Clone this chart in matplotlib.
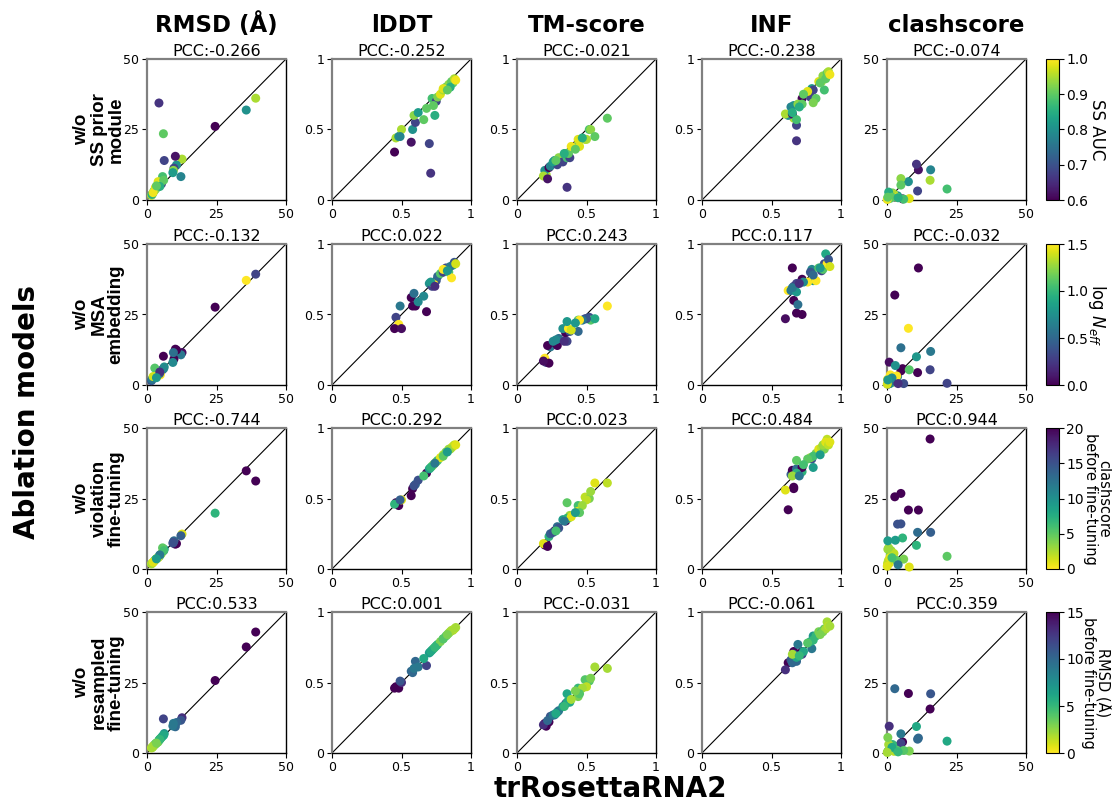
import matplotlib
matplotlib.use("Agg")
import matplotlib.pyplot as plt
import numpy as np

# ---------------- data ----------------
metrics = ["RMSD (Å)", "lDDT", "TM-score", "INF", "clashscore"]
row_labels = ["w/o\nSS prior\nmodule", "w/o\nMSA\nembedding",
              "w/o\nviolation\nfine-tuning", "w/o\nresampled\nfine-tuning"]
cbar_labels = ["SS AUC", "log $N_{eff}$", "clashscore\nbefore fine-tuning",
               "RMSD (Å)\nbefore fine-tuning"]
pcc_row1 = ["-0.266", "-0.252", "-0.021", "-0.238", "-0.074"]
pcc_row2 = ["-0.132", "0.022", "0.243", "0.117", "-0.032"]
pcc_row3 = ["-0.744", "0.292", "0.023", "0.484", "0.944"]
pcc_row4 = ["0.533", "0.001", "-0.031", "-0.061", "0.359"]

# trRosettaRNA2 values (x), one per target
x_rmsd = [39.1, 35.7, 24.5, 12.6, 12.2, 10.6, 10.2, 9.7, 9.5, 9.3, 5.9, 6.2, 5.6, 5.2, 4.8,
          4.5, 4.3, 4.0, 3.6, 3.2, 2.8, 2.4, 2.0, 1.6, 1.8, 3.0, 6.0, 2.2, 4.6, 3.4]
x_lddt = [0.46, 0.48, 0.45, 0.50, 0.49, 0.58, 0.57, 0.60, 0.59, 0.62, 0.68, 0.70, 0.72, 0.75, 0.73,
          0.76, 0.71, 0.78, 0.80, 0.82, 0.84, 0.86, 0.87, 0.88, 0.85, 0.80, 0.66, 0.89, 0.74, 0.83]
x_tm = [0.21, 0.20, 0.23, 0.19, 0.24, 0.27, 0.22, 0.29, 0.30, 0.26, 0.35, 0.33, 0.36, 0.38, 0.37,
        0.44, 0.36, 0.44, 0.49, 0.52, 0.53, 0.65, 0.56, 0.50, 0.47, 0.45, 0.28, 0.39, 0.34, 0.42]
x_inf = [0.66, 0.62, 0.72, 0.60, 0.64, 0.66, 0.65, 0.68, 0.69, 0.79, 0.72, 0.80, 0.68, 0.78, 0.82,
         0.80, 0.68, 0.84, 0.86, 0.88, 0.87, 0.90, 0.89, 0.91, 0.65, 0.76, 0.73, 0.92, 0.70, 0.85]
x_clash = [15.5, 7.7, 5.6, 0.8, 15.7, 2.8, 11.3, 11.0, 5.0, 3.8, 5.0, 3.0, 21.6, 0.3, 1.2,
           2.0, 10.6, 8.0, 0.5, 6.0, 1.5, 0.2, 1.0, 2.5, 0.6, 3.5, 1.8, 0.1, 4.0, 0.3]

# row 1: w/o SS prior module
y1_rmsd = [36.1, 31.9, 26.1, 14.5, 8.3, 12.4, 15.5, 11.3, 10.5, 9.7, 23.5, 14.0, 8.3, 5.7, 6.0,
           5.0, 34.4, 6.5, 4.5, 4.0, 3.5, 3.0, 2.2, 1.6, 2.0, 4.4, 7.0, 2.6, 4.8, 5.0]
y1_lddt = [0.44, 0.45, 0.34, 0.50, 0.45, 0.50, 0.41, 0.55, 0.60, 0.62, 0.65, 0.40, 0.72, 0.70, 0.67,
           0.73, 0.19, 0.75, 0.78, 0.80, 0.82, 0.84, 0.83, 0.86, 0.80, 0.79, 0.57, 0.85, 0.60, 0.78]
y1_tm = [0.18, 0.21, 0.23, 0.17, 0.24, 0.28, 0.15, 0.25, 0.30, 0.27, 0.33, 0.27, 0.30, 0.30, 0.33,
         0.39, 0.09, 0.43, 0.43, 0.50, 0.50, 0.58, 0.45, 0.43, 0.44, 0.38, 0.28, 0.38, 0.33, 0.36]
y1_inf = [0.58, 0.60, 0.72, 0.61, 0.66, 0.67, 0.61, 0.53, 0.68, 0.79, 0.68, 0.78, 0.57, 0.73, 0.72,
          0.69, 0.42, 0.84, 0.84, 0.78, 0.88, 0.90, 0.86, 0.91, 0.62, 0.77, 0.75, 0.89, 0.66, 0.83]
y1_clash = [7.0, 6.5, 0.4, 1.5, 10.7, 1.2, 10.7, 3.2, 7.6, 1.5, 5.3, 1.0, 3.9, 0.5, 2.0,
            2.5, 12.7, 0.5, 0.8, 0.3, 1.5, 0.3, 0.5, 2.0, 2.8, 1.0, 1.0, 0.2, 0.8, 1.0]
c1_ssauc = [0.95, 0.80, 0.60, 0.95, 0.78, 0.80, 0.62, 0.68, 0.93, 0.82, 0.90, 0.68, 0.88, 0.68, 0.90,
            0.92, 0.66, 0.98, 0.95, 0.88, 0.93, 0.90, 0.90, 0.95, 0.85, 0.98, 0.90, 0.99, 0.85, 0.90]

# row 2: w/o MSA embedding
y2_rmsd = [39.3, 37.1, 27.6, 11.5, 10.7, 12.4, 12.7, 9.2, 11.5, 8.0, 10.2, 6.4, 5.5, 5.0, 3.6,
           4.0, 4.5, 4.2, 3.5, 3.0, 6.0, 2.5, 2.2, 1.5, 2.0, 3.0, 5.8, 3.0, 4.6, 2.6]
y2_lddt = [0.48, 0.43, 0.40, 0.40, 0.56, 0.56, 0.62, 0.56, 0.65, 0.59, 0.52, 0.72, 0.70, 0.74, 0.72,
           0.77, 0.73, 0.79, 0.80, 0.83, 0.80, 0.76, 0.85, 0.87, 0.84, 0.82, 0.63, 0.86, 0.70, 0.81]
y2_tm = [0.16, 0.19, 0.155, 0.17, 0.27, 0.30, 0.28, 0.28, 0.33, 0.31, 0.37, 0.40, 0.31, 0.38, 0.40,
         0.38, 0.45, 0.46, 0.47, 0.48, 0.46, 0.56, 0.47, 0.47, 0.46, 0.46, 0.32, 0.39, 0.31, 0.44]
y2_inf = [0.70, 0.67, 0.75, 0.47, 0.67, 0.60, 0.83, 0.51, 0.57, 0.82, 0.50, 0.74, 0.72, 0.80, 0.74,
          0.78, 0.66, 0.83, 0.81, 0.86, 0.82, 0.86, 0.93, 0.89, 0.69, 0.73, 0.73, 0.84, 0.72, 0.83]
y2_clash = [5.4, 20.1, 5.8, 8.1, 11.9, 31.9, 41.5, 4.4, 13.2, 3.0, 5.0, 6.9, 0.6, 0.3, 3.6,
            1.5, 10.0, 5.4, 1.0, 0.5, 0.8, 2.0, 0.5, 1.5, 0.4, 3.2, 2.5, 0.3, 0.5, 1.8]
c2_logneff = [0.3, 1.5, 0.0, 0.05, 0.6, 0.0, 0.0, 0.0, 0.55, 0.7, 0.0, 0.75, 0.3, 0.4, 1.5,
              0.5, 0.8, 1.1, 0.3, 0.35, 1.1, 1.5, 0.9, 0.4, 0.6, 1.5, 0.7, 1.4, 0.2, 0.8]

# row 3: w/o violation fine-tuning
y3_rmsd = [31.2, 34.8, 19.8, 12.4, 11.8, 9.0, 8.8, 10.0, 9.5, 9.2, 6.5, 7.0, 7.5, 5.5, 5.0,
           4.6, 4.4, 4.0, 3.8, 3.5, 3.0, 2.6, 2.2, 1.8, 2.0, 3.3, 6.5, 2.4, 5.0, 3.6]
y3_lddt = [0.47, 0.45, 0.46, 0.49, 0.49, 0.57, 0.52, 0.60, 0.59, 0.63, 0.68, 0.71, 0.73, 0.76, 0.74,
           0.77, 0.72, 0.79, 0.81, 0.83, 0.85, 0.86, 0.87, 0.88, 0.85, 0.80, 0.66, 0.88, 0.75, 0.83]
y3_tm = [0.18, 0.17, 0.23, 0.18, 0.25, 0.27, 0.16, 0.30, 0.29, 0.26, 0.34, 0.35, 0.47, 0.38, 0.36,
         0.45, 0.36, 0.41, 0.51, 0.50, 0.55, 0.61, 0.61, 0.49, 0.45, 0.40, 0.27, 0.37, 0.34, 0.40]
y3_inf = [0.57, 0.42, 0.69, 0.56, 0.67, 0.58, 0.70, 0.71, 0.68, 0.78, 0.72, 0.72, 0.77, 0.79, 0.82,
          0.80, 0.68, 0.85, 0.86, 0.85, 0.88, 0.92, 0.90, 0.88, 0.66, 0.78, 0.74, 0.90, 0.66, 0.81]
y3_clash = [46.1, 20.9, 11.0, 2.0, 13.0, 25.6, 20.9, 13.0, 16.0, 15.9, 26.8, 10.2, 4.5, 7.0, 5.0,
            4.5, 8.4, 0.7, 3.0, 3.5, 6.5, 2.0, 4.0, 5.5, 7.5, 3.0, 4.0, 1.0, 1.5, 10.0]
c3_clash_before = [20, 20, 7, 1, 14, 20, 20, 13, 15, 15, 20, 9, 5, 3, 4,
                   6, 7, 1, 2, 4, 3, 2, 1, 2, 3, 5, 6, 1, 12, 9]

# row 4: w/o resampled fine-tuning
y4_rmsd = [42.9, 37.6, 25.7, 12.5, 11.6, 10.8, 9.3, 9.9, 10.5, 9.6, 12.1, 6.9, 6.0, 5.5, 5.1,
           4.8, 4.5, 3.9, 3.7, 3.4, 2.9, 2.7, 2.1, 1.8, 1.9, 3.2, 6.3, 2.3, 4.8, 3.5]
y4_lddt = [0.47, 0.46, 0.46, 0.50, 0.51, 0.57, 0.58, 0.65, 0.60, 0.61, 0.62, 0.71, 0.73, 0.76, 0.74,
           0.77, 0.72, 0.79, 0.81, 0.83, 0.85, 0.87, 0.87, 0.88, 0.86, 0.81, 0.67, 0.89, 0.75, 0.84]
y4_tm = [0.19, 0.21, 0.22, 0.20, 0.26, 0.27, 0.23, 0.29, 0.30, 0.27, 0.35, 0.33, 0.42, 0.36, 0.37,
         0.46, 0.36, 0.40, 0.52, 0.51, 0.53, 0.60, 0.61, 0.47, 0.46, 0.42, 0.28, 0.38, 0.33, 0.44]
y4_inf = [0.72, 0.64, 0.72, 0.59, 0.66, 0.70, 0.64, 0.65, 0.77, 0.74, 0.70, 0.83, 0.68, 0.79, 0.83,
          0.80, 0.68, 0.86, 0.86, 0.88, 0.86, 0.93, 0.88, 0.90, 0.70, 0.78, 0.72, 0.90, 0.69, 0.84]
y4_clash = [15.6, 21.1, 3.9, 9.5, 21.0, 22.8, 5.3, 4.9, 6.8, 1.4, 3.5, 1.2, 4.2, 0.5, 2.5,
            3.0, 9.4, 0.7, 0.8, 0.9, 1.5, 0.3, 1.2, 0.6, 3.0, 1.0, 2.0, 0.2, 0.4, 5.5]
c4_rmsd_before = [15, 15, 15, 13, 11, 10, 10, 10, 9, 9, 12, 7, 6, 6, 5,
                  5, 6, 3, 4, 4, 3, 2, 2, 1.5, 2, 4, 6, 2, 5, 3]

xs = [x_rmsd, x_lddt, x_tm, x_inf, x_clash]
ys = [[y1_rmsd, y1_lddt, y1_tm, y1_inf, y1_clash],
      [y2_rmsd, y2_lddt, y2_tm, y2_inf, y2_clash],
      [y3_rmsd, y3_lddt, y3_tm, y3_inf, y3_clash],
      [y4_rmsd, y4_lddt, y4_tm, y4_inf, y4_clash]]
cs = [c1_ssauc, c2_logneff, c3_clash_before, c4_rmsd_before]
pccs = [pcc_row1, pcc_row2, pcc_row3, pcc_row4]
crange = [(0.6, 1.0), (0.0, 1.5), (0, 20), (0, 15)]
cmaps = ["viridis", "viridis", "viridis_r", "viridis_r"]
cticks = [[0.6, 0.7, 0.8, 0.9, 1.0], [0.0, 0.5, 1.0, 1.5], [0, 5, 10, 15, 20], [0, 5, 10, 15]]
cfmt = ["{:.1f}", "{:.1f}", "{:d}", "{:d}"]

# ---------------- figure ----------------
W, H = 1112, 805
fig = plt.figure(figsize=(W / 100, H / 100), dpi=100)

col_left = [147, 332, 517, 702, 887]
row_top = [59, 244, 428, 612]
aw, ah = 139, 141

def frac(l, t, w, h):
    return [l / W, 1 - (t + h) / H, w / W, h / H]

label_font = ["Liberation Sans", "DejaVu Sans"]
head_font = ["DejaVu Sans"]

for r in range(4):
    vmin, vmax = crange[r]
    sc = None
    for c in range(5):
        ax = fig.add_axes(frac(col_left[c], row_top[r], aw, ah))
        lim = 50 if c in (0, 4) else 1
        ax.plot([0, lim], [0, lim], color="black", lw=0.8, zorder=1)
        sc = ax.scatter(xs[c], ys[r][c], c=cs[r], cmap=cmaps[r], vmin=vmin, vmax=vmax,
                        s=42, linewidths=0, zorder=3, clip_on=False)
        ax.set_xlim(0, lim)
        ax.set_ylim(0, lim)
        if lim == 50:
            ticks = [0, 25, 50]
            labels = ["0", "25", "50"]
        else:
            ticks = [0, 0.5, 1]
            labels = ["0", "0.5", "1"]
        ax.set_xticks(ticks)
        ax.set_xticklabels(labels)
        ax.set_yticks(ticks)
        ax.set_yticklabels(labels)
        ax.tick_params(labelsize=9, length=3.5, width=0.8, pad=2)
        for side in ("left", "top"):
            ax.spines[side].set_color("#808080")
            ax.spines[side].set_linewidth(1.6)
        for side in ("right", "bottom"):
            ax.spines[side].set_color("black")
            ax.spines[side].set_linewidth(1.0)
        ax.set_title("PCC:" + pccs[r][c], fontsize=11.5, pad=2)
    cax = fig.add_axes(frac(1046, row_top[r], 13, ah))
    cb = fig.colorbar(sc, cax=cax)
    cb.set_ticks(cticks[r])
    cb.set_ticklabels([cfmt[r].format(t) for t in cticks[r]])
    cb.ax.tick_params(labelsize=10, length=3.5, width=0.8, pad=1.5)
    cb.outline.set_linewidth(0.8)
    multi = "\n" in cbar_labels[r]
    fig.text(1097 / W, 1 - (row_top[r] + ah / 2) / H, cbar_labels[r],
             rotation=270, ha="center", va="center", fontsize=10.5 if multi else 12,
             linespacing=0.88, multialignment="center")
    # row label
    fig.text(99 / W, 1 - (row_top[r] + ah / 2) / H, row_labels[r], rotation=90,
             ha="center", va="center", fontsize=13.5, fontweight="bold", family=label_font,
             linespacing=1.0)

for c in range(5):
    fig.text((col_left[c] + aw / 2) / W, 1 - 25 / H, metrics[c], ha="center", va="center",
             fontsize=16.5, fontweight="bold", family=head_font)

fig.text(27 / W, 1 - 412 / H, "Ablation models", rotation=90, ha="center", va="center",
         fontsize=20, fontweight="bold", family=head_font)
fig.text(610 / W, 1 - 789 / H, "trRosettaRNA2", ha="center", va="center",
         fontsize=20, fontweight="bold", family=head_font)

fig.savefig("out.png", dpi=100)
